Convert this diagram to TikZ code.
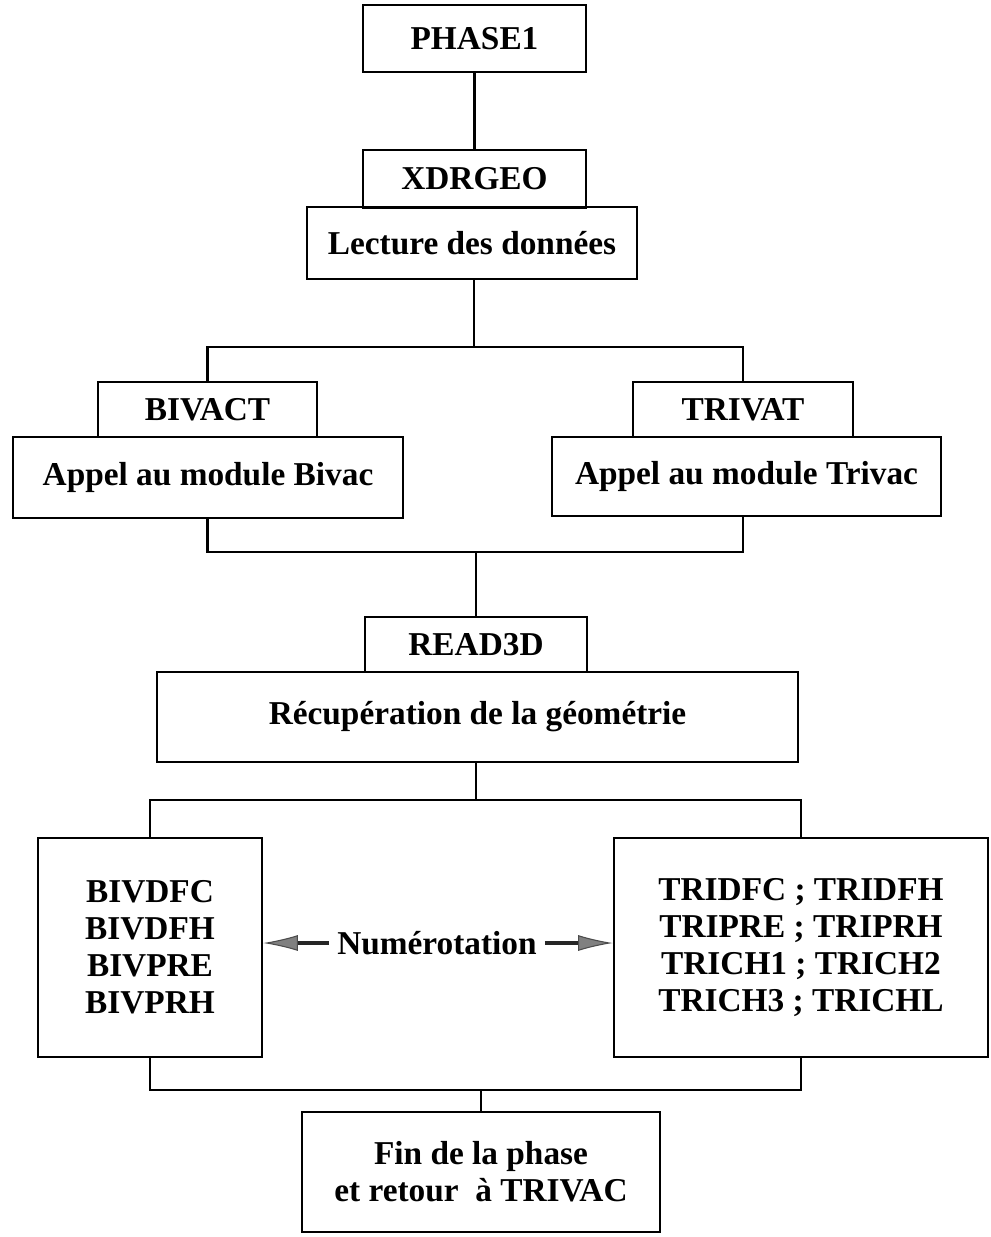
\documentclass[tikz,border=0pt]{standalone}
\usepackage{fontspec}
\setmainfont{Liberation Serif}
\usetikzlibrary{arrows.meta}
\begin{document}
\begin{tikzpicture}[x=0.75pt,y=-0.75pt,
  box/.style={draw, line width=1.8pt, rectangle, inner sep=0pt, align=center,
    font=\fontsize{25}{27.75}\selectfont\bfseries},
  link/.style={line width=1.8pt},
  arr/.style={line width=2.4pt, draw=black!85, -{Latex[length=26pt,width=12pt,fill=black!50,color=black!70,line width=0.8pt]}},
  lbl/.style={font=\fontsize{25}{27.75}\selectfont\bfseries, inner sep=6pt}]
\useasboundingbox (0,0) rectangle (990,1237);
\node[box, minimum width=223*0.75pt, minimum height=67*0.75pt] (phase) at (474.5,38.5) {PHASE1};
\node[box, minimum width=223*0.75pt, minimum height=58*0.75pt] (xdr) at (474.5,179) {XDRGEO};
\node[box, minimum width=330*0.75pt, minimum height=72*0.75pt] (lect) at (472,243) {Lecture des données};
\node[box, minimum width=219*0.75pt, minimum height=55*0.75pt] (bivact) at (207.5,409.5) {BIVACT};
\node[box, minimum width=390*0.75pt, minimum height=81*0.75pt] (appb) at (208,477.5) {Appel au module Bivac};
\node[box, minimum width=220*0.75pt, minimum height=55*0.75pt] (trivat) at (743,409.5) {TRIVAT};
\node[box, minimum width=389*0.75pt, minimum height=79*0.75pt] (appt) at (746.5,476.5) {Appel au module Trivac};
\node[box, minimum width=222*0.75pt, minimum height=55*0.75pt] (read) at (476,644.5) {READ3D};
\node[box, minimum width=641*0.75pt, minimum height=90*0.75pt] (recup) at (477.5,717) {Récupération de la géométrie};
\node[box, minimum width=224*0.75pt, minimum height=219*0.75pt] (biv) at (150,947.5) {BIVDFC\\BIVDFH\\BIVPRE\\BIVPRH};
\node[box, minimum width=374*0.75pt, minimum height=219*0.75pt] (tri) at (801,947.5) {TRIDFC ; TRIDFH\\TRIPRE ; TRIPRH\\TRICH1 ; TRICH2\\TRICH3 ; TRICHL};
\node[box, minimum width=358*0.75pt, minimum height=120*0.75pt] (fin) at (481,1172) {Fin de la phase\\et retour~ à TRIVAC};
\node[lbl] (num) at (437,943) {Numérotation};

\coordinate (b1) at (474,347);
\coordinate (b2) at (476,552);
\coordinate (b3) at (476,800);
\coordinate (b4) at (481,1090);

\draw[link] (phase.south) -- (xdr.north);
\draw[link] (b1 |- lect.south) -- (b1);
\draw[link] (bivact.north) -- (bivact.north |- b1) -- (trivat.north |- b1) -- (trivat.north);
\draw[link] (appb.south -| bivact) -- (bivact |- b2) -- (trivat |- b2) -- (appt.south -| trivat);
\draw[link] (b2) -- (b2 |- read.north);
\draw[link] (b3 |- recup.south) -- (b3);
\draw[link] (biv.north) -- (biv.north |- b3) -- (tri.north |- b3) -- (tri.north);
\draw[link] (biv.south) -- (biv.south |- b4) -- (tri.south |- b4) -- (tri.south);
\draw[link] (b4) -- (fin.north);
\draw[arr] (num.west) -- (biv.east |- num.west);
\draw[arr] (num.east) -- (tri.west |- num.east);
\end{tikzpicture}
\end{document}
